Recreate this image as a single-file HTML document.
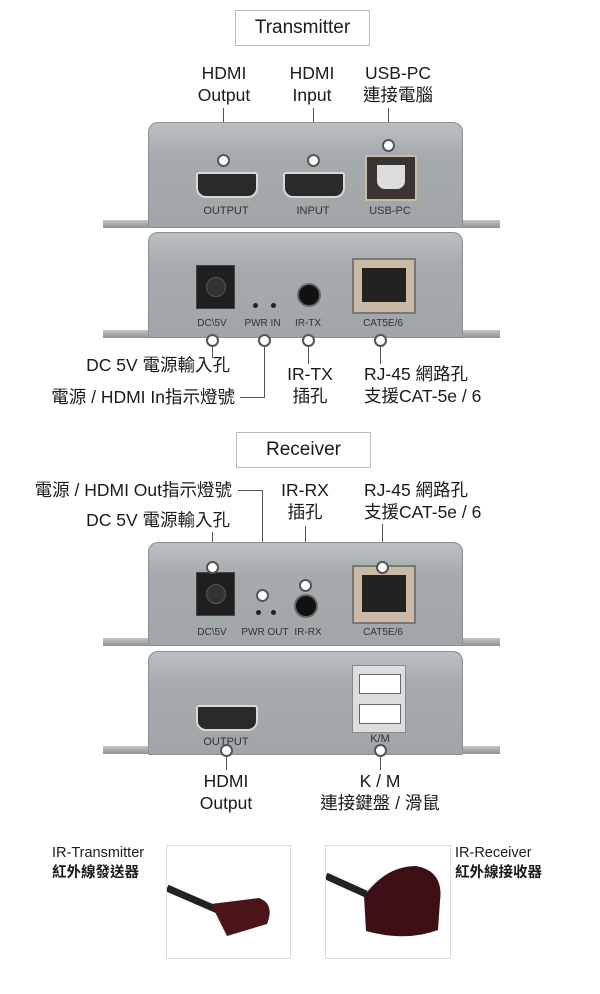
<!DOCTYPE html>
<html><head><meta charset="utf-8"><style>
body{margin:0;width:600px;height:994px;background:#fff;position:relative;overflow:hidden;font-family:"Liberation Sans","Noto Sans CJK TC",sans-serif;color:#1a1a1a}
.a{position:absolute}
.t{position:absolute;font-size:17.5px;line-height:22px;text-align:center;white-space:nowrap}
.box{position:absolute;border:1px solid #bbb;font-size:19px;text-align:center;line-height:34px;background:#fff}
.panel{position:absolute;left:148px;width:315px;border-radius:10px 10px 2px 2px;background:linear-gradient(#bcc0c3,#a6abae 30%,#a0a5a8);box-shadow:inset 0 0 0 1px #8a8f92}
.fl{position:absolute;height:8px;background:linear-gradient(#c3c6c8,#8d9295)}
.hdmi{position:absolute;width:58px;height:22px;background:#2a2a2a;border:2px solid #d8d8d8;border-radius:3px 3px 10px 10px/3px 3px 10px 10px}
.pl{position:absolute;font-size:10px;color:#333;text-align:center;white-space:nowrap}
.dot{position:absolute;width:9px;height:9px;border:2px solid #555;border-radius:50%;background:#fff}
.ln{position:absolute;background:#555}
.rj{position:absolute;background:#c9b9a5;border:2px solid #777}
.rj div{position:absolute;left:8px;top:8px;right:8px;bottom:10px;background:#222}
.dc{position:absolute;width:37px;height:42px;background:#1f1f1f;border:1px solid #444}
.dc div{position:absolute;left:9px;top:11px;width:18px;height:18px;border-radius:50%;background:#333;border:1px solid #555}
.jack{position:absolute;width:20px;height:20px;border-radius:50%;background:#111;border:2px solid #666}
.led{position:absolute;width:5px;height:5px;border-radius:50%;background:#222}
</style></head><body>
<div class="box" style="left:235px;top:10px;width:133px;height:34px">Transmitter</div>
<div class="t" style="left:194px;top:62px;width:60px">HDMI<br>Output</div>
<div class="t" style="left:282px;top:62px;width:60px">HDMI<br>Input</div>
<div class="t" style="left:355px;top:62px;width:86px">USB-PC<br>連接電腦</div>
<div class="ln" style="left:223px;top:108px;width:1px;height:48px"></div>
<div class="ln" style="left:313px;top:108px;width:1px;height:48px"></div>
<div class="ln" style="left:388px;top:108px;width:1px;height:33px"></div>

<div class="fl" style="left:103px;top:220px;width:50px"></div><div class="fl" style="left:458px;top:220px;width:42px"></div>
<div class="panel" style="top:122px;height:106px"></div>
<div class="hdmi" style="left:196px;top:172px"></div>
<div class="hdmi" style="left:283px;top:172px"></div>
<div class="a" style="left:365px;top:155px;width:48px;height:42px;background:#3a3530;border:2px solid #c8bca8"><div class="a" style="left:10px;top:8px;width:28px;height:24px;background:#ddd;border-radius:0 0 8px 8px"></div></div>
<div class="pl" style="left:196px;top:205px;width:60px;font-size:11px">OUTPUT</div>
<div class="pl" style="left:283px;top:205px;width:60px;font-size:11px">INPUT</div>
<div class="pl" style="left:360px;top:205px;width:60px;font-size:11px">USB-PC</div>
<div class="dot" style="left:217px;top:154px"></div>
<div class="dot" style="left:307px;top:154px"></div>
<div class="dot" style="left:382px;top:139px"></div>

<div class="fl" style="left:103px;top:330px;width:50px"></div><div class="fl" style="left:458px;top:330px;width:42px"></div>
<div class="panel" style="top:232px;height:106px"></div>
<div class="dc" style="left:196px;top:265px"><div></div></div>
<div class="led" style="left:253px;top:303px"></div><div class="led" style="left:271px;top:303px"></div>
<div class="jack" style="left:297px;top:283px"></div>
<div class="rj" style="left:352px;top:258px;width:60px;height:52px"><div></div></div>
<div class="pl" style="left:192px;top:318px;width:40px">DC\5V</div>
<div class="pl" style="left:240px;top:318px;width:45px">PWR IN</div>
<div class="pl" style="left:290px;top:318px;width:36px">IR-TX</div>
<div class="pl" style="left:355px;top:318px;width:56px">CAT5E/6</div>
<div class="ln" style="left:212px;top:340px;width:1px;height:18px"></div>
<div class="ln" style="left:264px;top:340px;width:1px;height:57px"></div>
<div class="ln" style="left:240px;top:397px;width:25px;height:1px"></div>
<div class="ln" style="left:308px;top:340px;width:1px;height:24px"></div>
<div class="ln" style="left:380px;top:340px;width:1px;height:24px"></div>
<div class="dot" style="left:206px;top:334px"></div>
<div class="dot" style="left:258px;top:334px"></div>
<div class="dot" style="left:302px;top:334px"></div>
<div class="dot" style="left:374px;top:334px"></div>
<div class="t" style="left:50px;top:354px;width:180px;text-align:right">DC 5V 電源輸入孔</div>
<div class="t" style="left:20px;top:386px;width:215px;text-align:right">電源 / HDMI In指示燈號</div>
<div class="t" style="left:282px;top:363px;width:56px">IR-TX<br>插孔</div>
<div class="t" style="left:364px;top:363px;width:120px;text-align:left">RJ-45 網路孔<br>支援CAT-5e / 6</div>

<div class="box" style="left:236px;top:432px;width:133px;height:34px">Receiver</div>
<div class="t" style="left:10px;top:479px;width:222px;text-align:right">電源 / HDMI Out指示燈號</div>
<div class="t" style="left:50px;top:509px;width:180px;text-align:right">DC 5V 電源輸入孔</div>
<div class="t" style="left:277px;top:479px;width:56px">IR-RX<br>插孔</div>
<div class="t" style="left:364px;top:479px;width:120px;text-align:left">RJ-45 網路孔<br>支援CAT-5e / 6</div>
<div class="ln" style="left:238px;top:490px;width:25px;height:1px"></div>
<div class="ln" style="left:262px;top:490px;width:1px;height:105px"></div>
<div class="ln" style="left:212px;top:532px;width:1px;height:34px"></div>
<div class="ln" style="left:305px;top:526px;width:1px;height:58px"></div>
<div class="ln" style="left:382px;top:524px;width:1px;height:42px"></div>

<div class="fl" style="left:103px;top:638px;width:50px"></div><div class="fl" style="left:458px;top:638px;width:42px"></div>
<div class="panel" style="top:542px;height:104px"></div>
<div class="dc" style="left:196px;top:572px"><div></div></div>
<div class="led" style="left:256px;top:610px"></div><div class="led" style="left:271px;top:610px"></div>
<div class="jack" style="left:294px;top:594px"></div>
<div class="rj" style="left:352px;top:565px;width:60px;height:55px"><div></div></div>
<div class="pl" style="left:192px;top:627px;width:40px">DC\5V</div>
<div class="pl" style="left:240px;top:627px;width:50px">PWR OUT</div>
<div class="pl" style="left:290px;top:627px;width:36px">IR-RX</div>
<div class="pl" style="left:355px;top:627px;width:56px">CAT5E/6</div>
<div class="dot" style="left:206px;top:561px"></div>
<div class="dot" style="left:256px;top:589px"></div>
<div class="dot" style="left:299px;top:579px"></div>
<div class="dot" style="left:376px;top:561px"></div>

<div class="fl" style="left:103px;top:746px;width:50px"></div><div class="fl" style="left:458px;top:746px;width:42px"></div>
<div class="panel" style="top:651px;height:104px"></div>
<div class="hdmi" style="left:196px;top:705px"></div>
<div class="a" style="left:352px;top:665px;width:52px;height:66px;background:#ddd;border:1px solid #888"><div class="a" style="left:6px;top:8px;width:40px;height:18px;background:#fff;border:1px solid #666"></div><div class="a" style="left:6px;top:38px;width:40px;height:18px;background:#fff;border:1px solid #666"></div></div>
<div class="pl" style="left:196px;top:736px;width:60px;font-size:11px">OUTPUT</div>
<div class="pl" style="left:360px;top:733px;width:40px;font-size:11px">K/M</div>
<div class="ln" style="left:226px;top:750px;width:1px;height:20px"></div>
<div class="ln" style="left:380px;top:750px;width:1px;height:20px"></div>
<div class="dot" style="left:220px;top:744px"></div>
<div class="dot" style="left:374px;top:744px"></div>
<div class="t" style="left:190px;top:770px;width:72px">HDMI<br>Output</div>
<div class="t" style="left:310px;top:770px;width:140px">K / M<br>連接鍵盤 / 滑鼠</div>

<div class="a" style="left:52px;top:843px;font-size:14.5px;line-height:20px">IR-Transmitter<br><b>紅外線發送器</b></div>
<div class="a" style="left:166px;top:845px;width:123px;height:112px;border:1px solid #ddd">
<svg width="123" height="112"><path d="M0 42 L60 68" stroke="#222" stroke-width="7"/><path d="M44 58 L92 52 Q108 58 100 78 L60 90 Z" fill="#4a1418"/></svg></div>
<div class="a" style="left:325px;top:845px;width:124px;height:112px;border:1px solid #ddd">
<svg width="124" height="112"><path d="M0 30 L40 48" stroke="#222" stroke-width="7"/><path d="M38 50 Q60 20 90 20 Q118 25 114 55 L112 84 Q80 96 40 85 Z" fill="#3e1016"/></svg></div>
<div class="a" style="left:455px;top:843px;font-size:14.5px;line-height:20px">IR-Receiver<br><b>紅外線接收器</b></div>
</body></html>
